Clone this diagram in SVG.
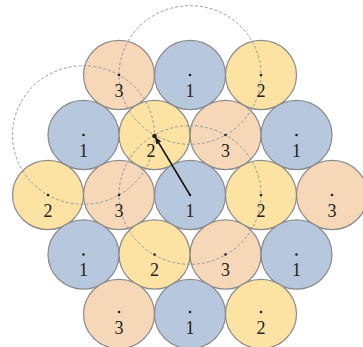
<svg xmlns="http://www.w3.org/2000/svg" width="363" height="347" viewBox="0 0 363 347">
<defs>
<style>
.c{stroke:#8a8a8a;stroke-width:1.2}
.b{fill:#b7c8de}
.y{fill:#fde3a3}
.p{fill:#f6d8b9}
.g{fill:none;stroke:#9a9a9a;stroke-width:1;stroke-dasharray:3 2}
.d{fill:#222}
.t{font-family:"Liberation Serif","Times New Roman",serif;font-size:18px;fill:#222;text-anchor:middle}
</style>
<marker id="ah" viewBox="0 0 10 10" refX="9" refY="5" markerWidth="7" markerHeight="7" orient="auto" markerUnits="userSpaceOnUse">
<path d="M0,1 L10,5 L0,9 Z" fill="#111"/>
</marker>
</defs>
<rect width="363" height="347" fill="#fff"/>
<g id="n-r0-3"><ellipse class="c p" cx="119" cy="75" rx="35.5" ry="34.6"/></g>
<g id="n-r0-1"><ellipse class="c b" cx="190" cy="75" rx="35.5" ry="34.6"/></g>
<g id="n-r0-2"><ellipse class="c y" cx="261" cy="75" rx="35.5" ry="34.6"/></g>
<g id="n-r1-1a"><ellipse class="c b" cx="83.5" cy="135" rx="35.5" ry="34.6"/></g>
<g id="n-r1-2"><ellipse class="c y" cx="154.5" cy="135" rx="35.5" ry="34.6"/></g>
<g id="n-r1-3"><ellipse class="c p" cx="225.5" cy="135" rx="35.5" ry="34.6"/></g>
<g id="n-r1-1b"><ellipse class="c b" cx="296.5" cy="135" rx="35.5" ry="34.6"/></g>
<g id="n-r2-2a"><ellipse class="c y" cx="48" cy="195" rx="35.5" ry="34.6"/></g>
<g id="n-r2-3a"><ellipse class="c p" cx="119" cy="195" rx="35.5" ry="34.6"/></g>
<g id="n-r2-1"><ellipse class="c b" cx="190" cy="195" rx="35.5" ry="34.6"/></g>
<g id="n-r2-2b"><ellipse class="c y" cx="261" cy="195" rx="35.5" ry="34.6"/></g>
<g id="n-r2-3b"><ellipse class="c p" cx="332" cy="195" rx="35.5" ry="34.6"/></g>
<g id="n-r3-1a"><ellipse class="c b" cx="83.5" cy="254.5" rx="35.5" ry="34.6"/></g>
<g id="n-r3-2"><ellipse class="c y" cx="154.5" cy="254.5" rx="35.5" ry="34.6"/></g>
<g id="n-r3-3"><ellipse class="c p" cx="225.5" cy="254.5" rx="35.5" ry="34.6"/></g>
<g id="n-r3-1b"><ellipse class="c b" cx="296.5" cy="254.5" rx="35.5" ry="34.6"/></g>
<g id="n-r4-3"><ellipse class="c p" cx="119" cy="314" rx="35.5" ry="34.6"/></g>
<g id="n-r4-1"><ellipse class="c b" cx="190" cy="314" rx="35.5" ry="34.6"/></g>
<g id="n-r4-2"><ellipse class="c y" cx="261" cy="314" rx="35.5" ry="34.6"/></g>
<g id="guides">
<ellipse class="g" cx="83.5" cy="135" rx="71" ry="69.3"/>
<ellipse class="g" cx="190" cy="75" rx="71" ry="69.3"/>
<ellipse class="g" cx="190" cy="195" rx="71" ry="69.3"/>
</g>
<g id="labels">
<circle class="d" cx="119" cy="75" r="1.3"/><text class="t" x="119" y="97">3</text>
<circle class="d" cx="190" cy="75" r="1.3"/><text class="t" x="190" y="97">1</text>
<circle class="d" cx="261" cy="75" r="1.3"/><text class="t" x="261" y="97">2</text>
<circle class="d" cx="83.5" cy="135" r="1.3"/><text class="t" x="83.5" y="157">1</text>
<circle class="d" cx="154.5" cy="136" r="2.3"/><text class="t" x="151" y="157">2</text>
<circle class="d" cx="225.5" cy="135" r="1.3"/><text class="t" x="225.5" y="157">3</text>
<circle class="d" cx="296.5" cy="135" r="1.3"/><text class="t" x="296.5" y="157">1</text>
<circle class="d" cx="48" cy="195" r="1.3"/><text class="t" x="48" y="217">2</text>
<circle class="d" cx="119" cy="195" r="1.3"/><text class="t" x="119" y="217">3</text>
<circle class="d" cx="190" cy="195" r="1.3"/><text class="t" x="190" y="217">1</text>
<circle class="d" cx="261" cy="195" r="1.3"/><text class="t" x="261" y="217">2</text>
<circle class="d" cx="332" cy="195" r="1.3"/><text class="t" x="332" y="217">3</text>
<circle class="d" cx="83.5" cy="254.5" r="1.3"/><text class="t" x="83.5" y="276">1</text>
<circle class="d" cx="154.5" cy="254.5" r="1.3"/><text class="t" x="154.5" y="276">2</text>
<circle class="d" cx="225.5" cy="254.5" r="1.3"/><text class="t" x="225.5" y="276">3</text>
<circle class="d" cx="296.5" cy="254.5" r="1.3"/><text class="t" x="296.5" y="276">1</text>
<circle class="d" cx="119" cy="312" r="1.3"/><text class="t" x="119" y="334">3</text>
<circle class="d" cx="190" cy="312" r="1.3"/><text class="t" x="190" y="334">1</text>
<circle class="d" cx="261" cy="312" r="1.3"/><text class="t" x="261" y="334">2</text>
</g>
<g id="connectors">
<line x1="190" y1="195" x2="155.5" y2="137.5" stroke="#111" stroke-width="1.5" marker-end="url(#ah)"/>
</g>
</svg>
